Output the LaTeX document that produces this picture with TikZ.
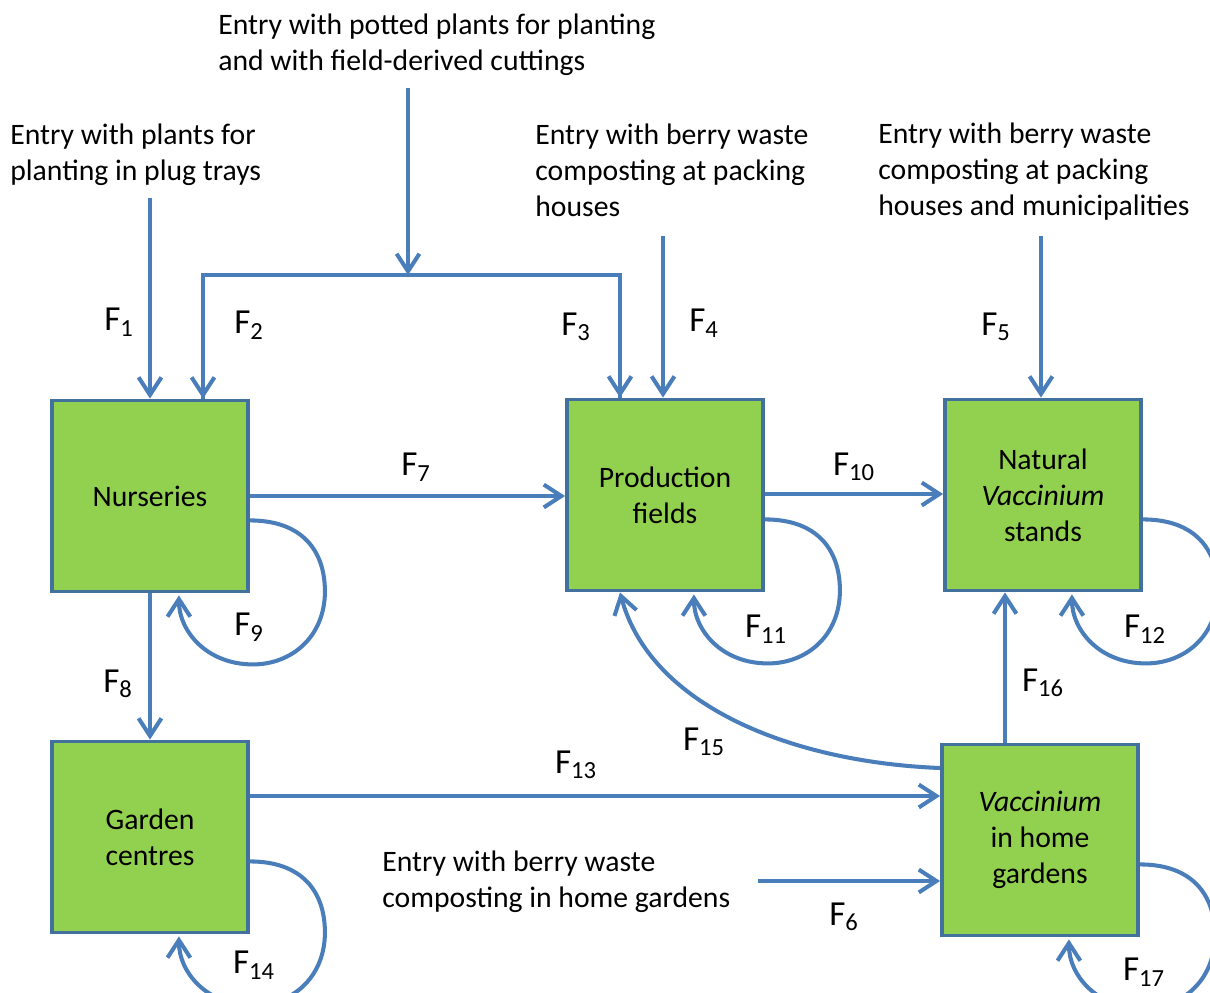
\documentclass[tikz,border=0pt]{standalone}
\usepackage{fontspec}
\setmainfont{Carlito}
\usetikzlibrary{arrows.meta,calc}
\definecolor{boxfill}{HTML}{92D050}
\definecolor{boxline}{HTML}{41719C}
\definecolor{arrowblue}{HTML}{4A7EBB}
\begin{document}
\begin{tikzpicture}[x=0.02cm,y=-0.02cm,
  box/.style={draw=boxline,line width=2.2pt,fill=boxfill,minimum width=3.92cm,minimum height=3.82cm,align=center,font=\fontsize{16.9}{20.4}\selectfont,inner sep=0pt},
  flow/.style={draw=arrowblue,line width=2.3pt},
  arr/.style={flow,-{Straight Barb[length=10pt,width=13pt]}},
  entry/.style={anchor=base west,align=left,font=\fontsize{16.9}{20.4}\selectfont,inner sep=0pt},
  flab/.style={font=\fontsize{20}{24}\selectfont,inner sep=0pt}]
\useasboundingbox (0,0) rectangle (1210,992);

% boxes
\node[box] (nur) at (150,496) {Nurseries};
\node[box] (prod) at (665,495) {Production\\fields};
\node[box] (nat) at (1043,495) {Natural\\\textit{Vaccinium}\\stands};
\node[box] (gar) at (150,837) {Garden\\centres};
\node[box] (home) at (1040,840) {\textit{Vaccinium}\\in home\\gardens};

% entry texts (anchored at the baseline of the last line)
\node[entry] (e1) at (10,180) {Entry with plants for\\planting in plug trays};
\node[entry] (e2) at (218,70) {Entry with potted plants for planting\\and with field-derived cuttings};
\node[entry] (e3) at (535,216) {Entry with berry waste\\composting at packing\\houses};
\node[entry] (e4) at (878,215) {Entry with berry waste\\composting at packing\\houses and municipalities};
\node[entry] (e6) at (382,907) {Entry with berry waste\\composting in home gardens};

% free ends
\coordinate (s1) at (150,198);
\coordinate (s2) at (408,88);
\coordinate (j2) at (408,275);
\coordinate (jl) at (203,275);
\coordinate (jr) at (620,275);
\coordinate (s4) at (663,236);
\coordinate (s5) at (1041,236);
\coordinate (s6) at (758,881);

% entry arrows
\draw[arr] (s1) -- (s1 |- nur.north);
\draw[arr] (s2) -- (j2);
\draw[flow] (jl |- nur.north) -- (jl) -- (jr) -- (jr |- prod.north);
\draw[arr] (jl) -- (jl |- nur.north);
\draw[arr] (jr) -- (jr |- prod.north);
\draw[arr] (s4) -- (s4 |- prod.north);
\draw[arr] (s5) -- (s5 |- nat.north);
\draw[arr] (s6) -- (s6 -| home.west);

% flows between boxes
\draw[arr] (nur.east |- 0,496) -- (prod.west |- 0,496);
\draw[arr] (prod.east |- 0,494) -- (nat.west |- 0,494);
\draw[arr] (nur.south) -- (gar.north);
\draw[arr] (gar.east |- 0,796) -- (home.west |- 0,796);
\draw[arr] (home.north -| 1005,0) -- (nat.south -| 1005,0);
\draw[arr] (home.west |- 0,768) .. controls (790,762) and (650,705) .. (prod.south -| 620,0);

% self loops
\foreach \n in {nur,prod,nat,gar,home}{
  \draw[arr] ($(\n.south east)+(0,-73)$) .. controls ($(\n.south east)+(52,-73)$) and ($(\n.south east)+(75,-43)$) .. ($(\n.south east)+(75,-2)$)
    .. controls ($(\n.south east)+(75,43)$) and ($(\n.south east)+(42,71)$) .. ($(\n.south east)+(3,71)$)
    .. controls ($(\n.south east)+(-43,71)$) and ($(\n.south east)+(-71,38)$) .. ($(\n.south east)+(-71,2)$);
}

% labels
\node[flab] (f1) at (119,322) {F\textsubscript{1}};
\node[flab] (f2) at (249,325) {F\textsubscript{2}};
\node[flab] (f3) at (576,327) {F\textsubscript{3}};
\node[flab] (f4) at (704,323) {F\textsubscript{4}};
\node[flab] (f5) at (996,327) {F\textsubscript{5}};
\node[flab] (f6) at (844,917) {F\textsubscript{6}};
\node[flab] (f7) at (416,467) {F\textsubscript{7}};
\node[flab] (f8) at (118,684) {F\textsubscript{8}};
\node[flab] (f9) at (249,627) {F\textsubscript{9}};
\node[flab] (f10) at (854,467) {F\textsubscript{10}};
\node[flab] (f11) at (766,629) {F\textsubscript{11}};
\node[flab] (f12) at (1145,629) {F\textsubscript{12}};
\node[flab] (f13) at (576,765) {F\textsubscript{13}};
\node[flab] (f14) at (254,965) {F\textsubscript{14}};
\node[flab] (f15) at (704,742) {F\textsubscript{15}};
\node[flab] (f16) at (1043,683) {F\textsubscript{16}};
\node[flab] (f17) at (1144,972) {F\textsubscript{17}};
\end{tikzpicture}
\end{document}
